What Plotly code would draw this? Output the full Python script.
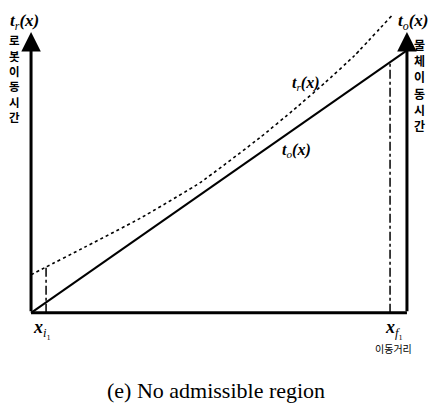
import plotly.graph_objects as go

# travel distance (normalised 0-100) and travel times
x_dist = [0, 4, 13, 29, 45, 61, 70, 78, 86, 96]
t_robot = [13.6, 16.4, 22.6, 33.8, 46.6, 62.8, 72.8, 82.1, 92.0, 106.4]
x_obj = [0, 100]
t_object = [0, 93.9]

x_i1 = 4.0
x_f1 = 95.5

# values of the curves at the two marked positions
t_r_at_i1 = 16.4
t_o_at_f1 = t_object[0] + (t_object[1] - t_object[0]) * x_f1 / 100.0

robot_axis_title = ["로", "봇", "이", "동", "시", "간"]
object_axis_title = ["물", "체", "이", "동", "시", "간"]

SERIF = "Liberation Serif, Times New Roman, serif"
KR = "Noto Sans CJK KR"

X_RANGE = [-4, 104]
Y_RANGE = [-4, 108]


def px(x):
    return (x - X_RANGE[0]) / (X_RANGE[1] - X_RANGE[0])


def py(y):
    return (y - Y_RANGE[0]) / (Y_RANGE[1] - Y_RANGE[0])


fig = go.Figure()

# robot travel time t_r(x): dotted curve
fig.add_trace(go.Scatter(
    x=x_dist, y=t_robot, mode="lines",
    line=dict(color="black", width=1.6, dash="dot", shape="spline", smoothing=0.4),
    hoverinfo="skip", showlegend=False))

# object travel time t_o(x): solid line
fig.add_trace(go.Scatter(
    x=x_obj, y=t_object, mode="lines",
    line=dict(color="black", width=2),
    hoverinfo="skip", showlegend=False))

# dash-dot markers at x_i1 and x_f1
fig.add_trace(go.Scatter(
    x=[x_i1, x_i1], y=[0, t_r_at_i1], mode="lines",
    line=dict(color="black", width=1.5, dash="dashdot"),
    hoverinfo="skip", showlegend=False))
fig.add_trace(go.Scatter(
    x=[x_f1, x_f1], y=[0, t_o_at_f1], mode="lines",
    line=dict(color="black", width=1.5, dash="dashdot"),
    hoverinfo="skip", showlegend=False))

# bottom axis
fig.add_shape(type="line", x0=0, y0=0, x1=100, y1=0,
              line=dict(color="black", width=3))

annotations = []
# vertical axes with arrow heads
for xa in (0, 100):
    annotations.append(dict(
        x=xa, y=100.5, ax=xa, ay=0, xref="x", yref="y", axref="x", ayref="y",
        text="", showarrow=True, arrowhead=2, arrowsize=1.3, arrowwidth=3,
        arrowcolor="black"))


def lbl(text, x, y, size=15, font=SERIF):
    # positions given in data units, placed through paper coordinates
    annotations.append(dict(
        x=px(x), y=py(y), xref="paper", yref="paper", text=text, showarrow=False,
        font=dict(family=font, size=size, color="black"), borderpad=0,
        xanchor="center", yanchor="middle"))


lbl("<b><i>t</i></b><sub><i>r</i></sub><b><i>(x)</i></b>", -1.8, 104.0, size=17)
lbl("<b><i>t</i></b><sub><i>o</i></sub><b><i>(x)</i></b>", 101.8, 104.0, size=17)

# vertical Korean axis titles, one glyph per line
for k, ch in enumerate(robot_axis_title):
    lbl("<b>" + ch + "</b>", -4.5, 97.5 - 5.5 * k, size=11.5, font=KR)
for k, ch in enumerate(object_axis_title):
    lbl("<b>" + ch + "</b>", 103.4, 96.0 - 5.8 * k, size=12, font=KR)

lbl("<b><i>t</i></b><sub><i>r</i></sub><b><i>(x)</i></b>", 73.0, 82.0, size=16)
lbl("<b><i>t</i></b><sub><i>o</i></sub><b><i>(x)</i></b>", 70.5, 58.0, size=16)

lbl("<b><i>x</i></b><sub><i>i</i>₁</sub>", 3.0, -5.5, size=18)
lbl("<b><i>x</i></b><sub><i>f</i>₁</sub>", 96.5, -5.5, size=18)
lbl("이동거리", 96.5, -12.8, size=10, font=KR)

lbl("(e) No admissible region", 49.2, -27.8, size=22)

fig.update_layout(
    width=430, height=406,
    margin=dict(l=16, r=8, t=11, b=82),
    paper_bgcolor="white", plot_bgcolor="white",
    annotations=annotations,
    xaxis=dict(range=X_RANGE, visible=False, fixedrange=True),
    yaxis=dict(range=Y_RANGE, visible=False, fixedrange=True),
    showlegend=False,
)

fig.write_html("out.html")
